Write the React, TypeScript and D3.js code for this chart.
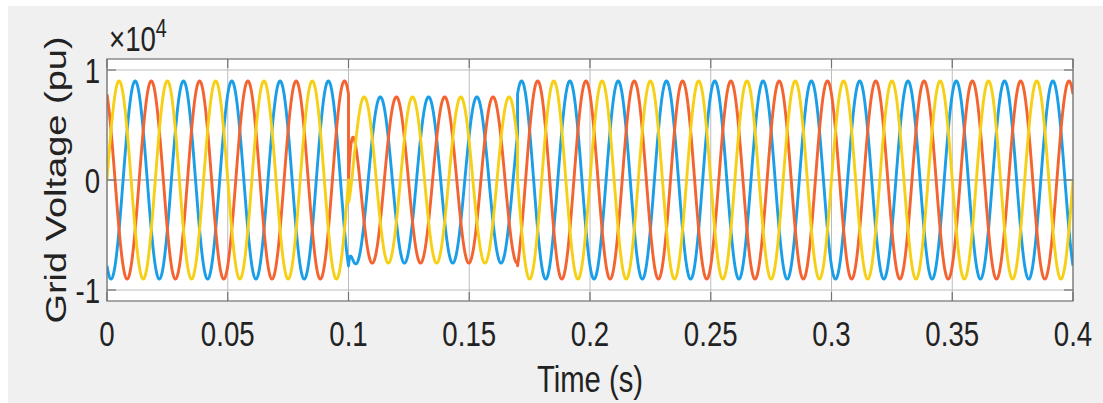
import React from "react";
import * as d3 from "d3";

// ---- Axis data ----
const X_TICKS = [0, 0.05, 0.1, 0.15, 0.2, 0.25, 0.3, 0.35, 0.4];
const X_TICK_LABELS = ["0", "0.05", "0.1", "0.15", "0.2", "0.25", "0.3", "0.35", "0.4"];
const Y_TICKS = [-10000, 0, 10000];
const Y_TICK_LABELS = ["-1", "0", "1"];
const X_DOMAIN = [0, 0.4];
const Y_DOMAIN = [-11000, 11000];

// ---- Waveform data ----
const PHASES = ["Va", "Vb", "Vc"];
const PHASE_COLORS = ["#1a9ee8", "#f36430", "#f6d016"];
const PHASE_ANGLE_DEG = [-120, 120, 0];
const FREQUENCY_HZ = 50;
const SEGMENT_START_S = [0, 0.1, 0.17];
const SEGMENT_END_S = [0.1, 0.17, 0.4];
const SEGMENT_AMPLITUDE = [9000, 7550, 9000];
const SEGMENT_PHASE_SHIFT_DEG = [0, -27, 0];
// decaying offset at fault onset (segment 1), per phase
const FAULT_OFFSET = [-3700, -7540, 1400];
const FAULT_TAU_S = [0.0008, 0.0015, 0.001];
const SAMPLE_STEP_S = 0.00005;

const W = 1103;
const H = 403;
const PL = 107;
const PR = 1073;
const PT = 59;
const PB = 301;
const FONT = "'Liberation Sans', Arial, Helvetica, sans-serif";
const SX = 0.79;

function buildSeries(p: number) {
  const pts: [number, number][] = [];
  const rad = Math.PI / 180;
  for (let s = 0; s < SEGMENT_START_S.length; s++) {
    const t0 = SEGMENT_START_S[s];
    const t1 = SEGMENT_END_S[s];
    const n = Math.round((t1 - t0) / SAMPLE_STEP_S);
    for (let i = 0; i <= n; i++) {
      const t = t0 + (i * (t1 - t0)) / n;
      let v =
        SEGMENT_AMPLITUDE[s] *
        Math.sin(2 * Math.PI * FREQUENCY_HZ * t + (PHASE_ANGLE_DEG[p] + SEGMENT_PHASE_SHIFT_DEG[s]) * rad);
      if (s === 1) v += FAULT_OFFSET[p] * Math.exp(-(t - t0) / FAULT_TAU_S[p]);
      pts.push([t, v]);
    }
  }
  return pts;
}

export default function App() {
  const x = d3.scaleLinear().domain(X_DOMAIN).range([PL, PR]);
  const y = d3.scaleLinear().domain(Y_DOMAIN).range([PB, PT]);
  const line = d3
    .line<[number, number]>()
    .x((d) => x(d[0]))
    .y((d) => y(d[1]));

  const axisColor = "#727272";
  const gridColor = "#bcbcbc";
  const textColor = "#222222";

  return (
    <svg
      width={W}
      height={H}
      style={{ position: "absolute", left: 0, top: 0, display: "block" }}
      xmlns="http://www.w3.org/2000/svg"
    >
      <rect x={0} y={0} width={W} height={H} fill="#ffffff" />
      <rect x={8} y={6} width={W - 8} height={H - 6} fill="#f0f0f0" />
      <defs>
        <clipPath id="plotclip">
          <rect x={PL} y={PT} width={PR - PL} height={PB - PT} />
        </clipPath>
      </defs>
      <rect x={PL} y={PT} width={PR - PL} height={PB - PT} fill="#ffffff" />

      {/* grid */}
      {X_TICKS.map((t, i) => (
        <line key={"gx" + i} x1={x(t)} x2={x(t)} y1={PT} y2={PB} stroke={gridColor} strokeWidth={1} />
      ))}
      {Y_TICKS.map((t, i) => (
        <line
          key={"gy" + i}
          x1={PL}
          x2={PR}
          y1={y(t)}
          y2={y(t)}
          stroke={t === 0 ? "#8e8e8e" : gridColor}
          strokeWidth={1}
        />
      ))}

      {/* series */}
      <g clipPath="url(#plotclip)">
        {PHASES.map((ph, p) => (
          <path
            key={ph}
            d={line(buildSeries(p)) || ""}
            fill="none"
            stroke={PHASE_COLORS[p]}
            strokeWidth={2.9}
            strokeLinejoin="round"
          />
        ))}
      </g>

      {/* box + ticks */}
      <rect x={PL} y={PT} width={PR - PL} height={PB - PT} fill="none" stroke={axisColor} strokeWidth={1.2} />
      {X_TICKS.map((t, i) => (
        <g key={"tx" + i}>
          <line x1={x(t)} x2={x(t)} y1={PB} y2={PB - 9} stroke={axisColor} strokeWidth={1.2} />
          <line x1={x(t)} x2={x(t)} y1={PT} y2={PT + 9} stroke={axisColor} strokeWidth={1.2} />
        </g>
      ))}
      {Y_TICKS.map((t, i) => (
        <g key={"ty" + i}>
          <line x1={PL} x2={PL + 9} y1={y(t)} y2={y(t)} stroke={axisColor} strokeWidth={1.2} />
          <line x1={PR} x2={PR - 9} y1={y(t)} y2={y(t)} stroke={axisColor} strokeWidth={1.2} />
        </g>
      ))}

      {/* tick labels */}
      {X_TICKS.map((t, i) => (
        <text
          key={"lx" + i}
          transform={`translate(${x(t)},346) scale(${SX},1)`}
          textAnchor="middle"
          fontFamily={FONT}
          fontSize={35}
          fill={textColor}
        >
          {X_TICK_LABELS[i]}
        </text>
      ))}
      {Y_TICKS.map((t, i) => (
        <text
          key={"ly" + i}
          transform={`translate(100,${y(t) + 12.5}) scale(${SX},1)`}
          textAnchor="end"
          fontFamily={FONT}
          fontSize={35}
          fill={textColor}
        >
          {Y_TICK_LABELS[i]}
        </text>
      ))}

      {/* exponent */}
      <text transform={`translate(109,51) scale(${SX},1)`} fontFamily={FONT} fontSize={35} fill={textColor}>
        ×10
        <tspan fontSize={25} dy={-14}>
          4
        </tspan>
      </text>

      {/* axis labels */}
      <text
        transform={`translate(${(PL + PR) / 2},392) scale(${SX},1)`}
        textAnchor="middle"
        fontFamily={FONT}
        fontSize={37}
        fill={textColor}
      >
        Time (s)
      </text>
      <text
        transform={`translate(66,${(PT + PB) / 2}) scale(${SX},1) rotate(-90)`}
        textAnchor="middle"
        fontFamily={FONT}
        fontSize={38}
        fill={textColor}
      >
        Grid Voltage (pu)
      </text>
    </svg>
  );
}
